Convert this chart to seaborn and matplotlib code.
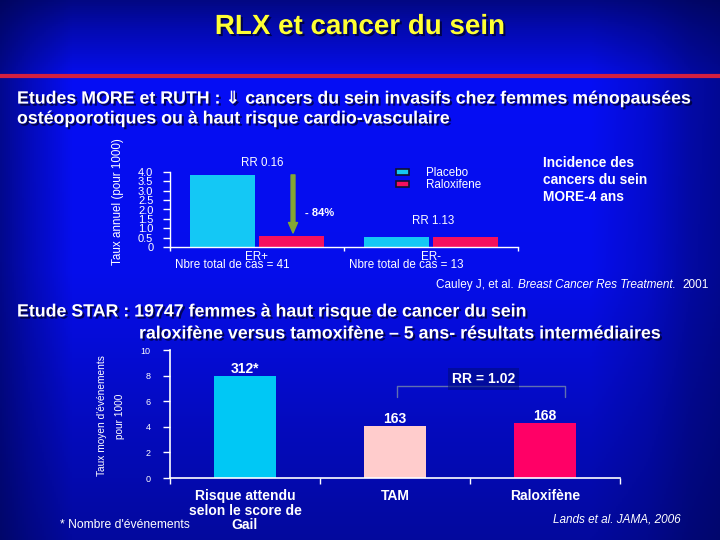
import numpy as np
import pandas as pd
import matplotlib
matplotlib.use("Agg")
import matplotlib.pyplot as plt
import matplotlib.patheffects as pe
from matplotlib.patches import Patch
import seaborn as sns

# ---------------- data ----------------
more_groups = ["ER+", "ER-"]
more_treatments = ["Placebo", "Raloxifene"]
placebo_rates = [3.83, 0.55]
raloxifene_rates = [0.61, 0.57]
more_rr = ["RR 0.16", "RR 1.13"]
more_cases = ["Nbre total de cas = 41", "Nbre total de cas = 13"]
more_yticks = [0, 0.5, 1.0, 1.5, 2.0, 2.5, 3.0, 3.5, 4.0]
more_yticklabels = ["0", "0.5", "1.0", "1.5", "2.0", "2.5", "3.0", "3.5", "4.0"]
reduction_label = "- 84%"

star_groups = ["Risque attendu\nselon le score de\nGail", "TAM", "Raloxifène"]
star_rates = [8.0, 4.1, 4.3]
star_events = ["312*", "163", "168"]
star_rr = "RR = 1.02"
star_yticks = [0, 2, 4, 6, 8, 10]

more_colors = ["#14c8f5", "#f5105e"]
star_colors = ["#00c8f5", "#ffcccc", "#ff0066"]

# ---------------- style ----------------
sns.set_style("ticks")
plt.rcParams["font.family"] = ["Liberation Sans", "DejaVu Sans"]
plt.rcParams["text.color"] = "white"
plt.rcParams["axes.edgecolor"] = "white"

fig = plt.figure(figsize=(7.2, 5.4), dpi=100)
W, H = 720.0, 540.0

def fx(px):
    return px / W

def fy(py):
    return 1 - py / H

# background gradient
bg = fig.add_axes([0, 0, 1, 1], zorder=-10)
xs = np.linspace(0, 1, 360)
ys = np.linspace(0, 1, 270)
gx = np.interp(xs, [0, 0.04, 0.1, 0.82, 0.9, 0.96, 1.0], [0.42, 0.68, 1.0, 1.0, 0.8, 0.55, 0.45])
gy = np.interp(ys, [0, 0.05, 0.15, 0.5, 0.75, 1.0], [0.35, 0.6, 1.0, 0.95, 0.72, 0.5])
t = gy[:, None] * gx[None, :]
dark = np.array([0, 4, 70]) / 255.0
bright = np.array([6, 14, 245]) / 255.0
img = dark[None, None, :] + (bright - dark)[None, None, :] * t[:, :, None]
bg.imshow(img, aspect="auto", extent=[0, 1, 0, 1], origin="upper")
bg.set_xlim(0, 1)
bg.set_ylim(0, 1)
bg.axis("off")
bg.axhline(fy(76), color="#d42040", lw=3)

shadow = [pe.withSimplePatchShadow(offset=(1.5, -1.5), shadow_rgbFace="#000020", alpha=0.7)]
fig.text(0.5, fy(27), "RLX et cancer du sein", ha="center", va="center",
         fontsize=20, fontweight="bold", color="#ffff33", path_effects=shadow)
fig.text(fx(17), fy(99), "Etudes MORE et RUTH : ⇓ cancers du sein invasifs chez femmes ménopausées",
         ha="left", va="center", fontsize=12.8, fontweight="bold", path_effects=shadow)
fig.text(fx(17), fy(119), "ostéoporotiques ou à haut risque cardio-vasculaire",
         ha="left", va="center", fontsize=12.8, fontweight="bold", path_effects=shadow)
fig.text(fx(17), fy(312), "Etude STAR : 19747 femmes à haut risque de cancer du sein",
         ha="left", va="center", fontsize=12.8, fontweight="bold", path_effects=shadow)
fig.text(fx(139), fy(334), "raloxifène versus tamoxifène – 5 ans- résultats intermédiaires",
         ha="left", va="center", fontsize=12.8, fontweight="bold", path_effects=shadow)
fig.text(fx(543), fy(180), "Incidence des\ncancers du sein\nMORE-4 ans", ha="left", va="center",
         fontsize=9.9, fontweight="bold", linespacing=1.25)

# ---------------- top chart (MORE) ----------------
ax1 = fig.add_axes([fx(170), fy(247.3), 348 / W, 75.6 / H])
ax1.set_facecolor("none")
df1 = pd.DataFrame({
    "group": more_groups * 2,
    "treatment": [tr for tr in more_treatments for _ in more_groups],
    "rate": placebo_rates + raloxifene_rates,
})
sns.barplot(data=df1, x="group", y="rate", hue="treatment", hue_order=more_treatments,
            order=more_groups, palette=more_colors, width=0.79, gap=0.05, saturation=1,
            errorbar=None, legend=False, ax=ax1, linewidth=0)
ax1.set_xlim(-0.5, 1.5)
ax1.set_ylim(0, 4.0)
ax1.set_xlabel("")
ax1.set_ylabel("")
for s in ["top", "right"]:
    ax1.spines[s].set_visible(False)
for s in ["left", "bottom"]:
    ax1.spines[s].set_color("white")
    ax1.spines[s].set_linewidth(1)
ax1.set_yticks(more_yticks, more_yticklabels)
ax1.tick_params(axis="y", colors="white", labelcolor="white", labelsize=8, length=5, width=1, pad=7)
ax1.tick_params(axis="x", length=0, labelsize=8.4, pad=3, labelcolor="white")
ax1.set_xticks([-0.5, 0.5, 1.5], minor=True)
ax1.tick_params(axis="x", which="minor", length=3, color="white", width=1)

# RR annotations and case counts
ax1.text(0.03, 4.46, more_rr[0], ha="center", va="center", fontsize=8.3, color="white", clip_on=False)
ax1.text(1.01, 1.40, more_rr[1], ha="center", va="center", fontsize=8.3, color="white", clip_on=False)
for i, cases in enumerate(more_cases):
    ax1.annotate(cases, xy=(i - 0.14, 0), xytext=(0, -13), textcoords="offset points",
                 ha="center", va="center", fontsize=8.4, color="white", annotation_clip=False)

ax1.annotate("", xy=(0.207, raloxifene_rates[0] + 0.15), xytext=(0.207, placebo_rates[0]),
             arrowprops=dict(arrowstyle="simple,head_length=0.75,head_width=0.65,tail_width=0.28",
                             color="#84a832", mutation_scale=10, shrinkA=0, shrinkB=0))
ax1.text(0.273, 1.81, reduction_label, ha="left", va="center", fontsize=8, fontweight="bold", color="white")

fig.legend(handles=[Patch(facecolor=c, edgecolor="#101030", linewidth=1.2) for c in more_colors],
           labels=more_treatments, loc="upper left", bbox_to_anchor=(fx(396), fy(167)),
           frameon=False, fontsize=8.4, handlelength=1.1, handleheight=0.45, handletextpad=1.5,
           labelspacing=0.0, borderpad=0, borderaxespad=0, labelcolor="white")

fig.text(fx(118), fy(202), "Taux annuel (pour 1000)", rotation=90, ha="center", va="center", fontsize=8.4)

cit1 = fig.text(fx(436), fy(285), "Cauley J, et al.", ha="left", va="center", fontsize=8.5)
cit2 = bg.annotate("Breast Cancer Res Treatment.", xy=(1, 0), xycoords=cit1, xytext=(3, 0),
                   textcoords="offset points", ha="left", va="bottom", fontsize=8.5, style="italic")
bg.annotate("2001", xy=(1, 0), xycoords=cit2, xytext=(5, 0), textcoords="offset points",
            ha="left", va="bottom", fontsize=8.5)

# ---------------- bottom chart (STAR) ----------------
ax2 = fig.add_axes([fx(170), fy(478), 450 / W, 128 / H])
ax2.set_facecolor("none")
df2 = pd.DataFrame({"group": star_groups, "rate": star_rates})
sns.barplot(data=df2, x="group", y="rate", hue="group", order=star_groups, hue_order=star_groups,
            palette=star_colors, width=0.41, saturation=1, errorbar=None, legend=False,
            ax=ax2, linewidth=0)
ax2.set_xlim(-0.5, 2.5)
ax2.set_ylim(0, 10)
ax2.set_xlabel("")
ax2.set_ylabel("")
for s in ["top", "right"]:
    ax2.spines[s].set_visible(False)
for s in ["left", "bottom"]:
    ax2.spines[s].set_color("white")
    ax2.spines[s].set_linewidth(1.2)
ax2.set_yticks(star_yticks)
ax2.tick_params(axis="y", colors="white", labelcolor="white", labelsize=6.5, length=5, width=1, pad=9)
ax2.tick_params(axis="x", length=0, labelsize=10, pad=8, labelcolor="white")
for lab in ax2.get_xticklabels():
    lab.set_fontweight("bold")
    lab.set_linespacing(1.05)
ax2.set_xticks([-0.5, 0.5, 1.5, 2.5], minor=True)
ax2.tick_params(axis="x", which="minor", length=4, color="white", width=1)

for cont, lab in zip(ax2.containers, star_events):
    ax2.bar_label(cont, labels=[lab], padding=0, fontsize=10, fontweight="bold", color="white")

ax2.plot([1.01, 1.01, 2.13, 2.13], [6.35, 7.2, 7.2, 6.35], color="#6070b0", lw=1, clip_on=False)
ax2.text(1.59, 7.73, star_rr, ha="center", va="center", fontsize=10, fontweight="bold", color="white",
         bbox=dict(boxstyle="square,pad=0.3", fc="#000c80", ec="none", alpha=0.6), clip_on=False)

fig.text(fx(102), fy(416), "Taux moyen d'événements", rotation=90, ha="center", va="center", fontsize=7.3)
fig.text(fx(120), fy(416), "pour 1000", rotation=90, ha="center", va="center", fontsize=7.3)
fig.text(fx(60), fy(525), "* Nombre d'événements", ha="left", va="center", fontsize=8.7)
fig.text(fx(553), fy(520), "Lands et al. JAMA, 2006", ha="left", va="center", fontsize=8.5, style="italic")

fig.savefig("out.png", dpi=100)
